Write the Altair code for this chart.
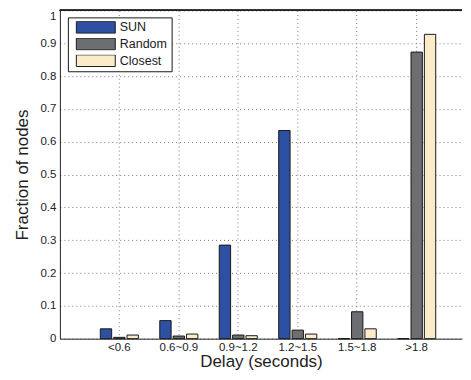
import altair as alt
import pandas as pd

categories = ["<0.6", "0.6~0.9", "0.9~1.2", "1.2~1.5", "1.5~1.8", ">1.8"]
series = ["SUN", "Random", "Closest"]
sun = [0.030, 0.055, 0.285, 0.634, 0.0, 0.0]
random_ = [0.004, 0.008, 0.011, 0.026, 0.082, 0.873]
closest = [0.011, 0.014, 0.009, 0.014, 0.030, 0.927]
colors = ["#2E50A3", "#6D6E71", "#FBEBC9"]
y_ticks = [0, 0.1, 0.2, 0.3, 0.4, 0.5, 0.6, 0.7, 0.8, 0.9, 1]

rows = []
for name, vals in zip(series, [sun, random_, closest]):
    for c, v in zip(categories, vals):
        rows.append({"cat": c, "series": name, "value": v})
df = pd.DataFrame(rows)

FONT = "Liberation Sans"

bars = alt.Chart(df).mark_bar(stroke="#1a1a1a", strokeWidth=1).encode(
    x=alt.X("cat:N", sort=categories,
            scale=alt.Scale(paddingInner=0, paddingOuter=0.381, align=0.656),
            axis=alt.Axis(title="Delay (seconds)", labelAngle=0, ticks=False,
                          grid=True, gridDash=[1, 3], gridColor="#777",
                          domainColor="#222", labelPadding=3, titlePadding=0)),
    xOffset=alt.XOffset("series:N", sort=series,
                        scale=alt.Scale(paddingInner=0.15, paddingOuter=0.8)),
    y=alt.Y("value:Q", scale=alt.Scale(domain=[0, 1], nice=False),
            axis=alt.Axis(title="Fraction of nodes", values=y_ticks, ticks=False,
                          grid=True, gridDash=[1, 3], gridColor="#777",
                          domainColor="#222", labelPadding=4, titlePadding=8,
                          labelBaseline={"condition": {"test": "datum.value == 1", "value": "top"}, "value": "middle"},
                          labelExpr="datum.value == 0 ? '0' : datum.value == 1 ? '1' : format(datum.value, '.1f')")),
    color=alt.Color("series:N", sort=series,
                    scale=alt.Scale(domain=series, range=colors),
                    legend=alt.Legend(title=None, orient="none", legendX=8, legendY=7,
                                      symbolType="M-1,-0.3L1,-0.3L1,0.3L-1,0.3Z",
                                      symbolSize=1521, clipHeight=12,
                                      symbolStrokeColor="#1a1a1a", symbolStrokeWidth=1,
                                      symbolOpacity=1, symbolOffset=4,
                                      strokeColor="#1a1a1a", fillColor="white",
                                      padding=4, rowPadding=3.7, labelOffset=4,
                                      labelFontSize=12.5, labelFont=FONT, labelColor="#1a1a1a")),
)

top = alt.Chart(df).mark_rule(color="#222", strokeWidth=1).encode(y=alt.value(0))

chart = alt.layer(bars, top).properties(
    width=403, height=329,
    padding={"left": 6, "top": 1, "right": 0, "bottom": 0},
).configure_view(stroke=None).configure_axis(
    labelFont=FONT, titleFont=FONT, labelFontSize=11.5, titleFontSize=17,
    titleFontWeight="normal", labelColor="#222", titleColor="#222",
)

chart.save("out.html", embed_options={"renderer": "svg", "actions": False})
